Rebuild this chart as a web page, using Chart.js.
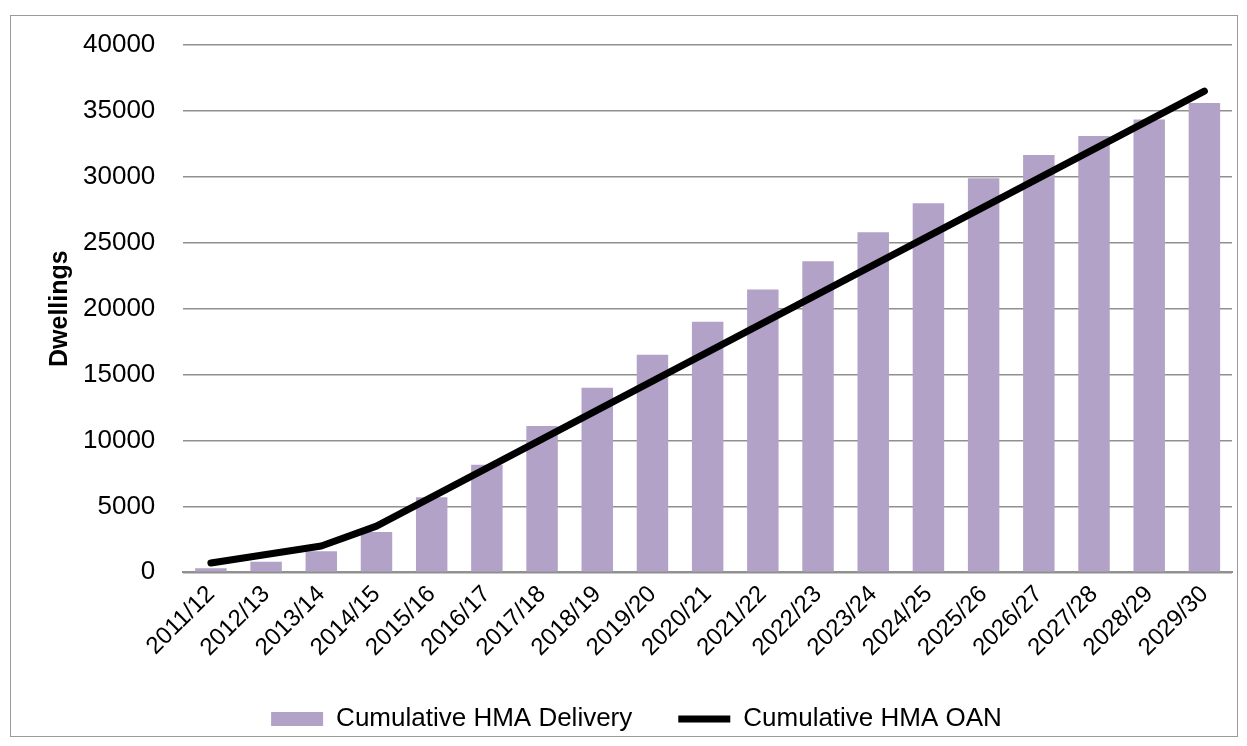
<!DOCTYPE html>
<html>
<head>
<meta charset="utf-8">
<script src="https://cdn.jsdelivr.net/npm/chart.js@4"></script>
<style>
  body { margin: 0; background: #fff; }
  #frame { position: absolute; left: 10px; top: 15px; width: 1226px; height: 720px; border: 1px solid #9a9a9a; }
</style>
</head>
<body>
<div id="frame"><canvas id="housingChart"></canvas></div>
<script>
var years = ['2011/12', '2012/13', '2013/14', '2014/15', '2015/16', '2016/17', '2017/18', '2018/19', '2019/20', '2020/21',
    '2021/22', '2022/23', '2023/24', '2024/25', '2025/26', '2026/27', '2027/28', '2028/29', '2029/30'];
var delivery = [300, 800, 1600, 3050, 5700, 8150, 11100, 14000, 16500, 19000,
    21450, 23600, 25800, 28000, 29900, 31650, 33100, 34350, 35600];
var oan = [700, 1350, 2000, 3500, 5700, 7900, 10100, 12300, 14500, 16700,
    18900, 21100, 23300, 25500, 27700, 29900, 32100, 34300, 36500];

Chart.defaults.font.family = '"Liberation Sans", Arial, sans-serif';
Chart.defaults.color = '#000';

var ctx = document.getElementById('housingChart').getContext('2d');
var housingChart = new Chart(ctx, {
    type: 'bar',
    data: {
        labels: years,
        datasets: [{
            type: 'line',
            label: 'Cumulative HMA OAN',
            data: oan,
            borderColor: '#000',
            backgroundColor: '#000',
            borderWidth: 7,
            borderCapStyle: 'round',
            borderJoinStyle: 'round',
            pointRadius: 0,
            pointStyle: 'line',
            tension: 0,
            order: 0
        }, {
            label: 'Cumulative HMA Delivery',
            data: delivery,
            backgroundColor: '#b3a2c7',
            borderWidth: 0,
            pointStyle: 'rect',
            categoryPercentage: 1,
            barPercentage: 0.57,
            order: 1
        }]
    },
    options: {
        responsive: true,
        maintainAspectRatio: false,
        animation: false,
        layout: { padding: { left: 30, right: 5, top: 29, bottom: -6 } },
        plugins: {
            legend: {
                position: 'bottom',
                reverse: true,
                labels: {
                    usePointStyle: true,
                    pointStyleWidth: 52,
                    boxHeight: 14,
                    padding: 46,
                    font: { size: 26 }
                }
            },
            tooltip: { enabled: false }
        },
        scales: {
            x: {
                grid: { display: false },
                border: { color: '#909090', width: 2 },
                ticks: { font: { size: 24 }, maxRotation: 45, minRotation: 45, autoSkip: false, padding: 0 },
                afterFit: function (scale) {
                    scale.paddingLeft = 0;
                    scale.paddingRight = 0;
                    scale.height -= 2;
                }
            },
            y: {
                min: 0,
                max: 40000,
                ticks: {
                    stepSize: 5000,
                    font: { size: 26 },
                    padding: 28,
                    callback: function (value) { return String(value); }
                },
                grid: { color: '#909090', lineWidth: 1.5, drawTicks: false },
                border: { display: false },
                title: { display: true, text: 'Dwellings', font: { size: 25, weight: 'bold' } },
                afterFit: function (scale) {
                    scale.width -= 24;
                    scale.paddingTop = 0;
                    scale.paddingBottom = 0;
                }
            }
        }
    }
});
</script>
</body>
</html>
